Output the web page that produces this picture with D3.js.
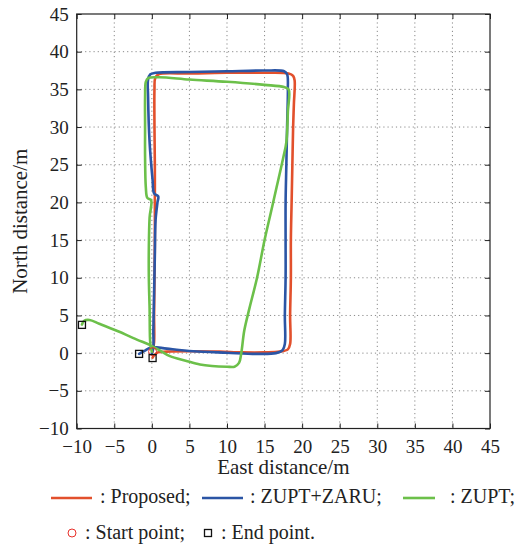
<!DOCTYPE html>
<html>
<head>
<meta charset="utf-8">
<script src="https://cdn.jsdelivr.net/npm/d3@7"></script>
<style>
  body { margin: 0; background: #fff; }
  html body #chart svg#trackSvg text.serif { font-family: "Liberation Serif", "Times New Roman", serif !important; }
</style>
</head>
<body>
<div id="chart"></div>
<script>
// ---------------- data (east, north in metres) ----------------
const proposed = [
  [0.1, 0.2], [0.3, 1.5], [0.3, 5], [0.35, 10], [0.4, 15], [0.4, 20], [0.4, 25],
  [0.35, 30], [0.35, 35], [0.45, 36.5], [0.9, 37.0], [5, 37.1], [10, 37.2], [15, 37.2],
  [18.2, 37.1], [18.8, 36.8], [19.0, 36.2], [18.9, 33], [18.8, 30], [18.7, 25], [18.6, 20],
  [18.5, 15], [18.5, 10], [18.4, 5], [18.4, 1.2], [18.1, 0.5], [17, 0.2], [15, 0.1],
  [12, 0.1], [9, 0.2], [5, 0.25], [2, 0.2], [0.8, 0.1], [0.3, -0.3], [0.1, -0.6]
];
const zuptZaru = [
  [0, 0], [0.2, 0.8], [0.2, 3], [0.3, 8], [0.4, 13], [0.5, 17.7], [0.75, 20], [0.85, 20.8],
  [0.3, 21.2], [0.1, 23], [-0.3, 28], [-0.5, 34], [-0.5, 36.3], [-0.2, 37], [0.5, 37.2],
  [5, 37.3], [10, 37.4], [15, 37.5], [17.6, 37.4], [18, 37], [18.1, 35], [18, 30], [17.9, 25],
  [17.8, 20], [17.8, 15], [17.8, 10], [17.7, 5], [17.7, 1.2], [17.4, 0.4], [16.5, 0],
  [14, -0.1], [10, 0.05], [5.5, 0.25], [2, 0.6], [0.2, 0.8], [-0.3, 0.7], [-1.0, 0.3], [-1.7, -0.1]
];
const zupt = [
  [0, 0.2], [-0.2, 1.2], [-0.3, 6], [-0.4, 10], [-0.4, 14], [-0.3, 18], [-0.1, 20.3],
  [-0.6, 20.6], [-0.8, 22], [-0.9, 26], [-0.9, 30], [-0.9, 34], [-0.8, 36], [-0.5, 36.5],
  [1, 36.6], [5, 36.3], [10, 36.0], [15, 35.6], [17.6, 35.3], [18.2, 35], [18.1, 32],
  [17.9, 28], [17.5, 26], [16.6, 22], [15.8, 18.5], [15, 15], [14, 10], [13, 6], [12.3, 3],
  [11.9, 0], [11.6, -1.3], [11, -1.8], [10, -1.8], [8, -1.7], [6.4, -1.5], [4.5, -1.0],
  [2.4, -0.4], [1, 0.4], [-0.3, 1.1], [-2, 1.8], [-4.5, 2.9], [-7, 3.9], [-8.3, 4.4],
  [-9, 4.3], [-9.3, 3.8]
];
const startPoint = [0.1, 0.2];
const endPoints = [[0.1, -0.65], [-1.7, -0.1], [-9.3, 3.75]];

const seriesNames = ["Proposed", "ZUPT+ZARU", "ZUPT"];
const seriesColors = ["#e2502c", "#2b55a5", "#6cc04a"];
const ticks = [-10, -5, 0, 5, 10, 15, 20, 25, 30, 35, 40, 45];

// ---------------- layout ----------------
const width = 526, height = 546;
const plot = { left: 76.7, right: 490, top: 14, bottom: 428.5 };

const svg = d3.select("#chart").append("svg").attr("id", "trackSvg")
  .attr("width", width).attr("height", height);

const x = d3.scaleLinear().domain([-10, 45]).range([plot.left, plot.right]);
const y = d3.scaleLinear().domain([-10, 45]).range([plot.bottom, plot.top]);

// grid
const grid = svg.append("g").attr("stroke", "#8a8a8a").attr("stroke-width", 1)
  .attr("stroke-dasharray", "1.2,3");
grid.selectAll(".gx").data(ticks.slice(1, -1)).enter().append("line")
  .attr("x1", d => x(d)).attr("x2", d => x(d)).attr("y1", plot.top).attr("y2", plot.bottom);
grid.selectAll(".gy").data(ticks.slice(1, -1)).enter().append("line")
  .attr("y1", d => y(d)).attr("y2", d => y(d)).attr("x1", plot.left).attr("x2", plot.right);

// axes (inward ticks all round)
const xAxisG = svg.append("g").attr("transform", `translate(0,${plot.bottom})`)
  .call(d3.axisBottom(x).tickValues(ticks).tickSize(-5).tickSizeOuter(0));
xAxisG.selectAll("text").attr("dy", null).attr("y", 24.5);

const yAxisG = svg.append("g").attr("transform", `translate(${plot.left},0)`)
  .call(d3.axisLeft(y).tickValues(ticks).tickSize(-5).tickSizeOuter(0));
yAxisG.selectAll("text").attr("x", -8);

svg.append("g").attr("transform", `translate(0,${plot.top})`)
  .call(d3.axisTop(x).tickValues(ticks).tickSize(-5).tickSizeOuter(0).tickFormat(""));
svg.append("g").attr("transform", `translate(${plot.right},0)`)
  .call(d3.axisRight(y).tickValues(ticks).tickSize(-5).tickSizeOuter(0).tickFormat(""));

svg.selectAll(".domain").remove();
svg.selectAll(".tick line").attr("stroke", "#222");
svg.selectAll(".tick text").attr("class", "ticklabel");
svg.append("rect").attr("x", plot.left).attr("y", plot.top)
  .attr("width", plot.right - plot.left).attr("height", plot.bottom - plot.top)
  .attr("fill", "none").attr("stroke", "#222").attr("stroke-width", 1.2);

// axis titles
svg.append("text").attr("x", (plot.left + plot.right) / 2).attr("y", 474)
  .attr("text-anchor", "middle").attr("class", "title").text("East distance/m");
svg.append("text").attr("transform", `translate(27,${(plot.top + plot.bottom) / 2}) rotate(-90)`)
  .attr("text-anchor", "middle").attr("class", "title").text("North distance/m");

// tracks
const line = d3.line().x(d => x(d[0])).y(d => y(d[1])).curve(d3.curveCatmullRom.alpha(0.5));
[proposed, zuptZaru, zupt].forEach((s, i) => {
  svg.append("path").datum(s).attr("d", line)
    .attr("fill", "none").attr("stroke", seriesColors[i])
    .attr("stroke-width", 2.6).attr("stroke-linejoin", "round").attr("stroke-linecap", "round");
});

// start / end markers
svg.append("circle").attr("cx", x(startPoint[0])).attr("cy", y(startPoint[1])).attr("r", 4)
  .attr("fill", "none").attr("stroke", "#e8302a").attr("stroke-width", 1);
svg.selectAll(".endpt").data(endPoints).enter().append("rect")
  .attr("x", d => x(d[0]) - 3.5).attr("y", d => y(d[1]) - 3.5)
  .attr("width", 7).attr("height", 7)
  .attr("fill", "none").attr("stroke", "#111").attr("stroke-width", 1.3);

// legend
const legendY = 498;
const legendPos = [[51, 92, 100], [202, 243, 250], [403, 435, 450]];
seriesNames.forEach((name, i) => {
  const p = legendPos[i];
  svg.append("line").attr("x1", p[0]).attr("x2", p[1]).attr("y1", legendY).attr("y2", legendY)
    .attr("stroke", seriesColors[i]).attr("stroke-width", 2.6);
  svg.append("text").attr("x", p[2]).attr("y", legendY + 5).attr("class", "legend")
    .text(": " + name + ";");
});
svg.append("circle").attr("cx", 72).attr("cy", 533).attr("r", 4)
  .attr("fill", "none").attr("stroke", "#e8302a").attr("stroke-width", 1);
svg.append("text").attr("x", 85).attr("y", 539).attr("class", "legend").text(": Start point;");
svg.append("rect").attr("x", 204.5).attr("y", 529.5).attr("width", 7).attr("height", 7)
  .attr("fill", "none").attr("stroke", "#111").attr("stroke-width", 1.3);
svg.append("text").attr("x", 221).attr("y", 539).attr("class", "legend").text(": End point.");

// all text in a Times-like serif
svg.selectAll("g").attr("font-family", null).attr("font-size", null);
svg.selectAll("text").classed("serif", true)
  .style("font-family", '"Liberation Serif", "Times New Roman", serif', "important")
  .attr("fill", "#222");
svg.selectAll("text.ticklabel").style("font-size", "19px");
svg.selectAll("text.title").style("font-size", "21px");
svg.selectAll("text.legend").style("font-size", "20px");
</script>
</body>
</html>
